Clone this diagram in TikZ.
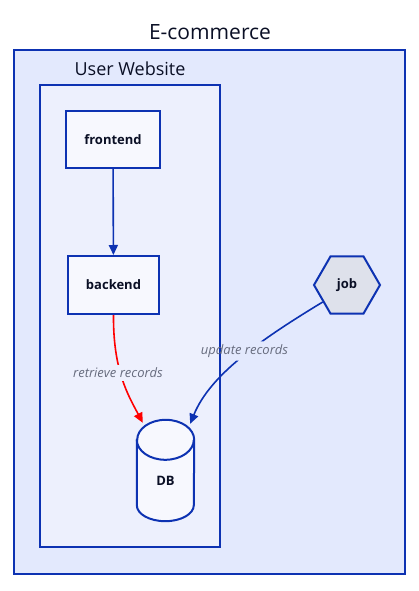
\documentclass[tikz,border=0pt]{standalone}
\usepackage{fontspec}
\setmainfont{Open Sans}
\usetikzlibrary{shapes.geometric,arrows.meta}
\definecolor{dblue}{HTML}{0D32B2}
\definecolor{outerbg}{HTML}{E3E9FD}
\definecolor{innerbg}{HTML}{EDF0FD}
\definecolor{nodebg}{HTML}{F7F8FE}
\definecolor{hexbg}{HTML}{DEE1EB}
\definecolor{lblgray}{HTML}{676C7E}
\definecolor{ink}{HTML}{0A0F25}
\begin{document}
\begin{tikzpicture}[x=1pt,y=-1pt,
  group/.style={draw=dblue,line width=2pt,inner sep=0pt},
  box/.style={draw=dblue,line width=2pt,fill=nodebg,inner sep=0pt,text=ink,font=\bfseries\fontsize{13}{15}\selectfont},
  edge/.style={draw=dblue,line width=1.6pt,-{Triangle[length=10pt,width=9pt]}},
  elabel/.style={inner sep=3pt,text=lblgray,font=\itshape\fontsize{13}{15}\selectfont}]
\useasboundingbox (0,0) rectangle (418,591);
\node (ecom) [group,fill=outerbg,minimum width=391pt,minimum height=524pt] at (209.5,312) {};
\node (ecomlbl) [text=ink,font=\fontsize{21}{25}\selectfont] at (210,32) {E-commerce};
\node (site) [group,fill=innerbg,minimum width=180pt,minimum height=462pt] at (130,316) {};
\node (sitelbl) [text=ink,font=\fontsize{18}{22}\selectfont] at (130,69) {User Website};

\node (frontend) [box,minimum width=94pt,minimum height=57pt] at (113,139.5) {frontend};
\node (backend) [box,minimum width=91pt,minimum height=58pt] at (113.5,285) {backend};
\node (job) [box,fill=hexbg,regular polygon,regular polygon sides=6,minimum size=66pt] at (347,285) {job};
\node (db) [inner sep=0pt,minimum width=57pt,minimum height=101pt] at (165.5,470.5) {};
\filldraw [draw=dblue,line width=2pt,fill=nodebg] ([yshift=-20pt]db.north west) -- ([yshift=16pt]db.south west)
  arc[start angle=180,end angle=360,x radius=28.5pt,y radius=16pt] -- ([yshift=-20pt]db.north east)
  arc[start angle=0,end angle=180,x radius=28.5pt,y radius=20pt] -- cycle;
\draw [dblue,line width=2pt] ([yshift=-20pt]db.north west) arc[start angle=180,end angle=360,x radius=28.5pt,y radius=20pt];
\node (dblbl) [text=ink,font=\bfseries\fontsize{13}{15}\selectfont] at ([yshift=-10pt]db.center) {DB};

\node (lret) [elabel] at (118,373) {retrieve records};
\node (lupd) [elabel] at (244.5,351) {update records};

\draw [edge] (frontend) -- (backend);
\begin{scope}[even odd rule]
\clip (0,0) rectangle (418,591) (lret.south west) rectangle (lret.north east);
\draw [edge,draw=red] (backend.south) .. controls (113,370) and (128,395) .. ([xshift=6pt,yshift=-3pt]db.north west);
\end{scope}
\begin{scope}[even odd rule]
\clip (0,0) rectangle (418,591) (lupd.south west) rectangle (lupd.north east);
\draw [edge] (job.215) .. controls (260,340) and (210,375) .. ([xshift=-4pt,yshift=-4pt]db.north east);
\end{scope}
\end{tikzpicture}
\end{document}
